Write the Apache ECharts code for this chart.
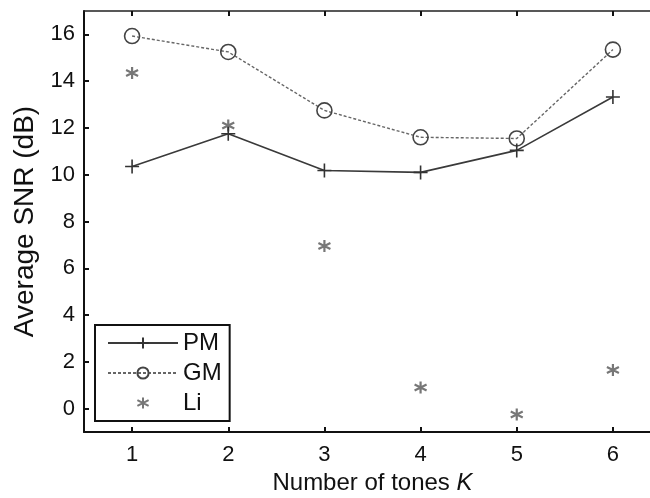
<!DOCTYPE html>
<html>
<head>
<meta charset="utf-8">
<script src="https://cdn.jsdelivr.net/npm/echarts@6/dist/echarts.min.js"></script>
<style>html,body{margin:0;padding:0;background:#fff;}#c{width:650px;height:498px;}</style>
</head>
<body>
<div id="c"></div>
<script>
var categories = [1, 2, 3, 4, 5, 6];
var pmValues = [10.35, 11.75, 10.18, 10.1, 11.04, 13.32];
var gmValues = [15.93, 15.25, 12.75, 11.6, 11.55, 15.35];
var liValues = [14.35, 12.1, 6.95, 0.9, -0.25, 1.65];
var xTicks = [1, 2, 3, 4, 5, 6];
var yTicks = [0, 2, 4, 6, 8, 10, 12, 14, 16];

function pairs(vals) { return categories.map(function (c, i) { return [c, vals[i]]; }); }

var plusPath = 'path://M5,0L5,10M0,5L10,5';
var starPath = 'path://M5,0L5,10M0.67,2.5L9.33,7.5M0.67,7.5L9.33,2.5';
var font = '"Liberation Sans", Arial, sans-serif';

var chart = echarts.init(document.getElementById('c'), null, {renderer: 'canvas'});
chart.setOption({
  animation: false,
  backgroundColor: '#fff',
  grid: {left: 84, top: 11, width: 577, height: 421, containLabel: false, outerBoundsMode: 'none'},
  xAxis: [{
    type: 'value', min: 0.5, max: 6.5, position: 'bottom',
    name: '{n|Number of tones }{k|K}', nameLocation: 'middle', nameGap: 33,
    nameTextStyle: {fontFamily: font, fontSize: 24, color: '#111',
      rich: {n: {fontFamily: font, fontSize: 24, color: '#111'},
             k: {fontFamily: font, fontSize: 24, color: '#111', fontStyle: 'italic'}}},
    axisLine: {show: true, onZero: false, lineStyle: {color: '#111', width: 2}},
    axisTick: {show: true, inside: true, length: 5, customValues: xTicks, lineStyle: {color: '#111', width: 2}},
    axisLabel: {customValues: xTicks, margin: 12, fontFamily: font, fontSize: 22, color: '#111'},
    splitLine: {show: false}
  }, {
    type: 'value', min: 0.5, max: 6.5, position: 'top',
    axisLine: {show: true, onZero: false, lineStyle: {color: '#222', width: 1.5}},
    axisTick: {show: true, inside: true, length: 5, customValues: xTicks, lineStyle: {color: '#111', width: 2}},
    axisLabel: {show: false},
    splitLine: {show: false}
  }],
  yAxis: [{
    type: 'value', min: -1, max: 17, position: 'left',
    name: 'Average SNR (dB)', nameLocation: 'middle', nameGap: 44, nameRotate: 90,
    nameTextStyle: {fontFamily: font, fontSize: 28, color: '#111'},
    axisLine: {show: true, onZero: false, lineStyle: {color: '#111', width: 2}},
    axisTick: {show: true, inside: true, length: 5, customValues: yTicks, lineStyle: {color: '#111', width: 2}},
    axisLabel: {customValues: yTicks, margin: 9, fontFamily: font, fontSize: 22, color: '#111'},
    splitLine: {show: false}
  }],
  legend: {
    left: 95, top: 325, width: 137, orient: 'vertical',
    padding: [6, 8, 6, 12],
    itemGap: 6, itemWidth: 70, itemHeight: 14,
    backgroundColor: '#fff', borderColor: '#111', borderWidth: 2,
    textStyle: {fontFamily: font, fontSize: 24, color: '#111'},
    data: ['PM', 'GM', 'Li']
  },
  series: [{
    name: 'PM', type: 'line', data: pairs(pmValues),
    symbol: plusPath, symbolSize: 14,
    itemStyle: {color: 'rgba(0,0,0,0)', borderColor: '#333', borderWidth: 1.6},
    lineStyle: {color: '#3a3a3a', width: 1.6, type: 'solid'},
    z: 3
  }, {
    name: 'GM', type: 'line', data: pairs(gmValues),
    symbol: 'circle', symbolSize: 15,
    itemStyle: {color: 'rgba(255,255,255,0)', borderColor: '#444', borderWidth: 1.6},
    lineStyle: {color: '#666', width: 1.4, type: [3, 2]},
    z: 2
  }, {
    name: 'Li', type: 'line', data: pairs(liValues),
    symbol: starPath, symbolSize: 12,
    itemStyle: {color: 'rgba(0,0,0,0)', borderColor: '#777', borderWidth: 2.2},
    lineStyle: {width: 0, opacity: 0},
    z: 2
  }]
});
</script>
</body>
</html>
